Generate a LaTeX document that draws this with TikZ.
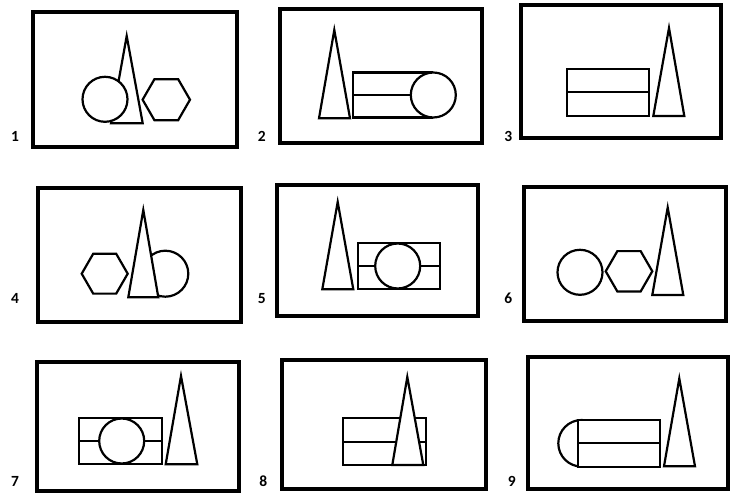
\documentclass[tikz,border=0pt]{standalone}
\usepackage{fontspec}
\setmainfont{Carlito}
\tikzset{
  frm/.style={draw=black,line width=4pt},
  shp/.style={draw=black,line width=2.2pt,line join=miter},
  wshp/.style={shp,fill=white},
  lbl/.style={font=\bfseries\fontsize{15.5}{16}\selectfont,inner sep=0pt}
}
\newcommand{\hexa}[3]{\draw[wshp] (#1+#3,#2) -- (#1+0.5*#3,#2+0.866*#3) -- (#1-0.5*#3,#2+0.866*#3) -- (#1-#3,#2) -- (#1-0.5*#3,#2-0.866*#3) -- (#1+0.5*#3,#2-0.866*#3) -- cycle;}
\newcommand{\tri}[5]{\draw[wshp] (#1,#2) -- (#4,#5) -- (#3,#5) -- cycle;}
\begin{document}
\begin{tikzpicture}[x=1pt,y=-1pt]
\useasboundingbox (0,0) rectangle (731,494);
\fill[white] (0,0) rectangle (731,494);
% frames
\draw[frm] (33,12) rectangle (237,147);
\draw[frm] (280,9) rectangle (482,143);
\draw[frm] (521,5.5) rectangle (721,138);
\draw[frm] (38,188.5) rectangle (241,322.5);
\draw[frm] (277,185) rectangle (478,316.5);
\draw[frm] (523.5,187) rectangle (725.5,321);
\draw[frm] (37,362) rectangle (239,491);
\draw[frm] (282,359.5) rectangle (485.5,489);
\draw[frm] (528,357) rectangle (727.5,489);
% labels
\node[lbl] (l1) at (15,136.5) {1};
\node[lbl] (l2) at (261.7,136.5) {2};
\node[lbl] (l3) at (508.3,136.5) {3};
\node[lbl] (l4) at (15,298.3) {4};
\node[lbl] (l5) at (261.7,298.3) {5};
\node[lbl] (l6) at (508.3,298.3) {6};
\node[lbl] (l7) at (15,481.7) {7};
\node[lbl] (l8) at (263.3,481.7) {8};
\node[lbl] (l9) at (511.7,481.7) {9};
% panel 1
\tri{126.7}{36}{111}{142.7}{123.3}
\draw[wshp] (105,99.3) circle (22.5);
\hexa{166.3}{99.7}{23.7}
% panel 2
\tri{334.3}{30}{319}{350}{118.3}
\draw[shp] (433.3,72.5) -- (353.3,72.5) -- (353.3,117.5) -- (433.3,117.5);
\draw[shp] (353.3,95) -- (420,95);
\draw[wshp] (433.3,95) circle (22.5);
% panel 3
\draw[shp] (566.7,69.3) rectangle (649,116);
\draw[shp] (566.7,91.7) -- (649,91.7);
\tri{669}{28}{653.3}{684.3}{116}
% panel 4
\hexa{104.7}{273.7}{23}
\draw[wshp] (165.3,273.7) circle (23);
\tri{143.3}{210}{128.3}{158.3}{297.3}
% panel 5
\tri{337.7}{202}{322.3}{353.3}{289.3}
\draw[shp] (357.7,242.7) rectangle (440,289.3);
\draw[shp] (357.7,266) -- (440,266);
\draw[wshp] (397.7,266) circle (22.5);
% panel 6
\draw[wshp] (580,272.3) circle (22.5);
\hexa{629}{271.3}{23.3}
\tri{667.7}{207.5}{652.3}{683.3}{295}
% panel 7
\draw[shp] (79,417.7) rectangle (162.3,464.3);
\draw[shp] (79,441) -- (162.3,441);
\draw[wshp] (121.7,441) circle (22.5);
\tri{181}{376}{165.7}{197.3}{464.3}
% panel 8
\draw[shp] (343.3,418.3) rectangle (426,465);
\draw[shp] (343.3,442.3) -- (426,442.3);
\tri{407.3}{377}{392.3}{423.3}{465}
% panel 9
\draw[wshp] (581.6,443.3) circle (23.3);
\draw[wshp] (578.3,420) rectangle (660,466.7);
\draw[shp] (578.3,443.3) -- (660,443.3);
\tri{679.3}{378.5}{664}{695}{466.3}
\end{tikzpicture}
\end{document}
